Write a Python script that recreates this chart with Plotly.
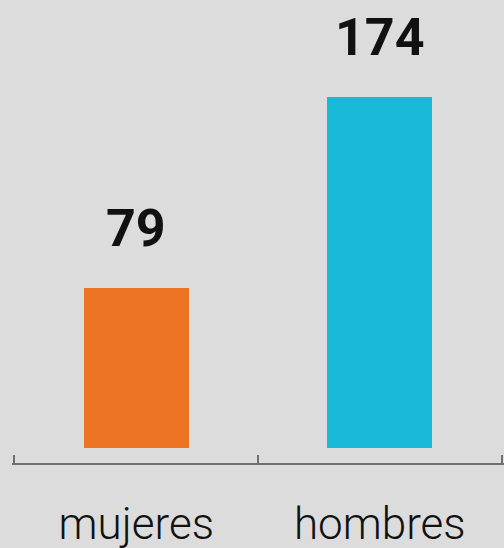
import plotly.graph_objects as go

categories = ["mujeres", "hombres"]
values = [79, 174]
colors = ["#ED7423", "#18B9D6"]
tick_edges = [-0.5, 0.5, 1.5]

fig = go.Figure()

fig.add_trace(go.Bar(
    x=categories,
    y=values,
    marker=dict(color=colors, line=dict(width=0)),
    width=0.43,
    hoverinfo="skip",
))

# empty trace so the overlay axis (line + boundary ticks) gets drawn
fig.add_trace(go.Scatter(x=[], y=[], xaxis="x2", hoverinfo="skip"))

# value labels above each bar
for cat, val in zip(categories, values):
    fig.add_annotation(
        x=cat, y=val, text=str(val), showarrow=False,
        yanchor="bottom", yshift=27,
        font=dict(family="Roboto", size=52, color="#111111", weight="bold"),
    )

fig.update_layout(
    xaxis=dict(
        range=[-0.51, 1.51], automargin=False,
        showline=False, ticks="",
        ticklabelstandoff=31,
        tickfont=dict(family="Roboto", size=44, color="#111111", weight=300),
        showgrid=False, zeroline=False,
    ),
    xaxis2=dict(
        overlaying="x", side="bottom", anchor="y",
        range=[-0.51, 1.51], automargin=False,
        showline=True, linecolor="#707070", linewidth=2,
        ticks="inside", ticklen=8, tickwidth=2, tickcolor="#707070",
        tickmode="array", tickvals=tick_edges, showticklabels=False,
        showgrid=False, zeroline=False,
    ),
    yaxis=dict(visible=False, automargin=False, range=[-7.43, 211.9]),
    width=504, height=548,
    margin=dict(l=12, r=0, t=20, b=85),
    paper_bgcolor="#DCDCDC",
    plot_bgcolor="#DCDCDC",
    showlegend=False,
    bargap=0,
)

fig.write_html(
    "out.html",
    config={"displayModeBar": False},
    post_script="document.body.style.margin='0';document.body.style.background='#DCDCDC';",
)
